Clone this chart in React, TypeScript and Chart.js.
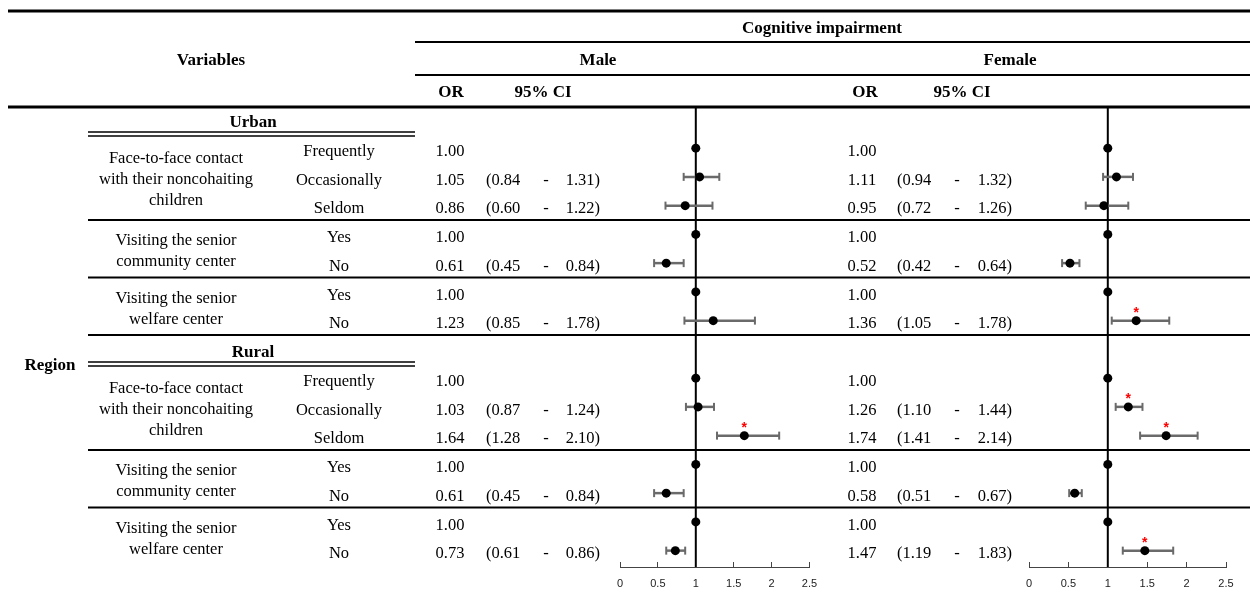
import React, { useEffect, useRef } from 'react';
import { Chart, registerables } from 'chart.js';

Chart.register(...registerables);

// ---------- data ----------
const regions = ['Urban', 'Rural'];
const groupLabels = [
  ['Face-to-face contact', 'with their noncohaiting', 'children'],
  ['Visiting the senior', 'community center'],
  ['Visiting the senior', 'welfare center'],
];
const groupCategories = [
  ['Frequently', 'Occasionally', 'Seldom'],
  ['Yes', 'No'],
  ['Yes', 'No'],
];
// order: Urban (7 items) then Rural (7 items)
const maleOR = [1.0, 1.05, 0.86, 1.0, 0.61, 1.0, 1.23, 1.0, 1.03, 1.64, 1.0, 0.61, 1.0, 0.73];
const maleLo = [null, 0.84, 0.6, null, 0.45, null, 0.85, null, 0.87, 1.28, null, 0.45, null, 0.61];
const maleHi = [null, 1.31, 1.22, null, 0.84, null, 1.78, null, 1.24, 2.1, null, 0.84, null, 0.86];
const maleSig = [false, false, false, false, false, false, false, false, false, true, false, false, false, false];
const femaleOR = [1.0, 1.11, 0.95, 1.0, 0.52, 1.0, 1.36, 1.0, 1.26, 1.74, 1.0, 0.58, 1.0, 1.47];
const femaleLo = [null, 0.94, 0.72, null, 0.42, null, 1.05, null, 1.1, 1.41, null, 0.51, null, 1.19];
const femaleHi = [null, 1.32, 1.26, null, 0.64, null, 1.78, null, 1.44, 2.14, null, 0.67, null, 1.83];
const femaleSig = [false, false, false, false, false, false, true, false, true, true, false, false, false, true];
const axisMin = 0;
const axisMax = 2.5;
const axisStep = 0.5;

type Row = { key: string; type: 'header' | 'item'; text: string; region: number; group: number; dataIdx: number };

function buildRows(): Row[] {
  const rows: Row[] = [];
  let idx = 0;
  regions.forEach((r, ri) => {
    rows.push({ key: r, type: 'header', text: r, region: ri, group: -1, dataIdx: -1 });
    groupCategories.forEach((cats, gi) => {
      cats.forEach((c, ci) => {
        rows.push({ key: `${r}-${gi}-${ci}`, type: 'item', text: c, region: ri, group: gi, dataIdx: idx++ });
      });
    });
  });
  return rows;
}

const SERIF = "'Liberation Serif', 'Times New Roman', serif";
const SANS = "'Liberation Sans', Arial, sans-serif";
const TY = 3.5; // text baseline nudge relative to row centre

export default function App() {
  const ref = useRef<HTMLCanvasElement | null>(null);

  useEffect(() => {
    if (!ref.current) return;
    const rows = buildRows();
    const labels = rows.map((r) => r.key);
    const itemRows = rows.filter((r) => r.type === 'item');

    const malePts = itemRows.map((r) => ({ x: maleOR[r.dataIdx], y: r.key }));
    const femalePts = itemRows.map((r) => ({ x: femaleOR[r.dataIdx], y: r.key }));

    const layoutPlugin = {
      id: 'placeScales',
      afterLayout(chart: any) {
        const s = chart.scales;
        const set = (sc: any, l: number, r: number, t: number, b: number) => {
          sc.left = l; sc.right = r; sc.top = t; sc.bottom = b;
          sc.width = r - l; sc.height = b - t;
          sc.configure();
        };
        set(s.xM, 620, 809.5, 567, 592);
        set(s.xF, 1029, 1226, 567, 592);
        set(s.y, 0, 1250, 105, 565);
        chart.chartArea = { left: 0, top: 0, right: 1250, bottom: 592, width: 1250, height: 592 };
      },
    };

    const line = (ctx: CanvasRenderingContext2D, x1: number, y1: number, x2: number, y2: number, w: number, c = '#000') => {
      ctx.save();
      ctx.strokeStyle = c;
      ctx.lineWidth = w;
      ctx.beginPath();
      ctx.moveTo(x1, y1);
      ctx.lineTo(x2, y2);
      ctx.stroke();
      ctx.restore();
    };
    const text = (ctx: CanvasRenderingContext2D, t: string, x: number, y: number, font: string, align: CanvasTextAlign = 'center', color = '#000') => {
      ctx.save();
      ctx.font = font;
      ctx.fillStyle = color;
      ctx.textAlign = align;
      ctx.textBaseline = 'middle';
      ctx.fillText(t, x, y);
      ctx.restore();
    };

    const tablePlugin = {
      id: 'table',
      beforeDatasetsDraw(chart: any) {
        const ctx: CanvasRenderingContext2D = chart.ctx;
        const y = chart.scales.y;
        const xM = chart.scales.xM;
        const xF = chart.scales.xF;
        const py = (i: number) => y.getPixelForValue(i);
        const half = (py(1) - py(0)) / 2;

        // header rules
        line(ctx, 8, 11, 1250, 11, 3);
        line(ctx, 415, 42, 1250, 42, 2);
        line(ctx, 415, 75, 1250, 75, 2);
        line(ctx, 8, 107, 1250, 107, 3);

        // section header double rules and group separators
        rows.forEach((r, i) => {
          if (r.type === 'header') {
            const top = py(i) - half;
            line(ctx, 88, top + 27, 415, top + 27, 1.5);
            line(ctx, 88, top + 31, 415, top + 31, 1.5);
          }
          const next = rows[i + 1];
          if (r.type === 'item' && next && (next.type === 'header' || next.group !== r.group)) {
            const yy = py(i) + half;
            line(ctx, 88, yy, 1250, yy, 2);
          }
        });

        // reference lines at OR = 1
        [xM, xF].forEach((sc) => {
          const x = sc.getPixelForValue(1);
          line(ctx, x, 107, x, sc.top, 2);
        });

        // error bars
        const bars = (sc: any, lo: (number | null)[], hi: (number | null)[]) => {
          itemRows.forEach((r) => {
            const l = lo[r.dataIdx];
            const h = hi[r.dataIdx];
            if (l == null || h == null) return;
            const yy = y.getPixelForValue(rows.indexOf(r));
            const x1 = sc.getPixelForValue(l);
            const x2 = sc.getPixelForValue(h);
            line(ctx, x1, yy, x2, yy, 2.5, '#6a6a6a');
            line(ctx, x1, yy - 4, x1, yy + 4, 2, '#6a6a6a');
            line(ctx, x2, yy - 4, x2, yy + 4, 2, '#6a6a6a');
          });
        };
        bars(xM, maleLo, maleHi);
        bars(xF, femaleLo, femaleHi);
      },
      afterDatasetsDraw(chart: any) {
        const ctx: CanvasRenderingContext2D = chart.ctx;
        const y = chart.scales.y;
        const xM = chart.scales.xM;
        const xF = chart.scales.xF;
        const py = (i: number) => y.getPixelForValue(i);
        const bodyFont = `16.5px ${SERIF}`;
        const boldFont = `bold 17px ${SERIF}`;

        // column headers
        text(ctx, 'Variables', 211, 60.5, boldFont);
        text(ctx, 'Cognitive impairment', 822, 28.5, boldFont);
        text(ctx, 'Male', 598, 60.5, boldFont);
        text(ctx, 'Female', 1010, 60.5, boldFont);
        text(ctx, 'OR', 451, 92.5, boldFont);
        text(ctx, '95% CI', 543, 92.5, boldFont);
        text(ctx, 'OR', 865, 92.5, boldFont);
        text(ctx, '95% CI', 962, 92.5, boldFont);
        text(ctx, 'Region', 50, 365.5, boldFont);

        rows.forEach((r, i) => {
          const yy = py(i) + TY;
          if (r.type === 'header') {
            text(ctx, r.text, 253, yy, boldFont);
            return;
          }
          text(ctx, r.text, 339, yy, bodyFont);
          const cols = [
            { or: maleOR, lo: maleLo, hi: maleHi, orX: 450, l: 486, d: 546, h: 600 },
            { or: femaleOR, lo: femaleLo, hi: femaleHi, orX: 862, l: 897, d: 957, h: 1012 },
          ];
          cols.forEach((c) => {
            text(ctx, c.or[r.dataIdx].toFixed(2), c.orX, yy, bodyFont);
            const lo = c.lo[r.dataIdx];
            const hi = c.hi[r.dataIdx];
            if (lo != null && hi != null) {
              text(ctx, '(' + lo.toFixed(2), c.l, yy, bodyFont, 'left');
              text(ctx, '-', c.d, yy, bodyFont);
              text(ctx, hi.toFixed(2) + ')', c.h, yy, bodyFont, 'right');
            }
          });
        });

        // group labels
        regions.forEach((_, ri) => {
          groupLabels.forEach((lines, gi) => {
            const idxs = rows.map((r, i) => (r.region === ri && r.group === gi ? i : -1)).filter((i) => i >= 0);
            const mid = (py(idxs[0]) + py(idxs[idxs.length - 1])) / 2 + 2.5;
            const sp = 21;
            lines.forEach((t, li) => {
              text(ctx, t, 176, mid + (li - (lines.length - 1) / 2) * sp, bodyFont);
            });
          });
        });

        // significance asterisks
        const stars = (sc: any, or: number[], sig: boolean[]) => {
          itemRows.forEach((r) => {
            if (!sig[r.dataIdx]) return;
            const yy = py(rows.indexOf(r));
            const x = sc.getPixelForValue(or[r.dataIdx]);
            ctx.save();
            ctx.font = `bold 14px ${SANS}`;
            ctx.fillStyle = '#ff0000';
            ctx.textAlign = 'center';
            ctx.textBaseline = 'alphabetic';
            ctx.fillText('*', x, yy - 4);
            ctx.restore();
          });
        };
        stars(xM, maleOR, maleSig);
        stars(xF, femaleOR, femaleSig);
      },
    };

    const xAxis = (pos: string) => ({
      type: 'linear' as const,
      position: pos,
      min: axisMin,
      max: axisMax,
      grid: { display: true, drawOnChartArea: false, drawTicks: true, tickLength: -5, color: '#444', lineWidth: 1 },
      border: { display: true, color: '#444', width: 1 },
      ticks: {
        stepSize: axisStep,
        padding: 15,
        color: '#222',
        font: { family: SANS, size: 11 },
        callback: (v: any) => String(Number(v)),
      },
    });

    const chart = new Chart(ref.current, {
      type: 'scatter',
      data: {
        labels,
        datasets: [
          { label: 'Male', data: malePts as any, xAxisID: 'xM', yAxisID: 'y', backgroundColor: '#000', borderWidth: 0, pointRadius: 4.5, clip: false as any },
          { label: 'Female', data: femalePts as any, xAxisID: 'xF', yAxisID: 'y', backgroundColor: '#000', borderWidth: 0, pointRadius: 4.5, clip: false as any },
        ],
      },
      options: {
        animation: false,
        responsive: false,
        maintainAspectRatio: false,
        layout: { padding: 0 },
        plugins: { legend: { display: false }, tooltip: { enabled: false } },
        scales: {
          xM: xAxis('bottom') as any,
          xF: xAxis('bottom') as any,
          y: { type: 'category', labels, display: false, offset: true, grid: { display: false } } as any,
        },
      },
      plugins: [layoutPlugin, tablePlugin],
    });
    return () => chart.destroy();
  }, []);

  return (
    <div style={{ position: 'absolute', left: 0, top: 0, width: 1250, height: 592, background: '#fff' }}>
      <canvas ref={ref} width={1250} height={592} style={{ width: 1250, height: 592, display: 'block' }} />
    </div>
  );
}
